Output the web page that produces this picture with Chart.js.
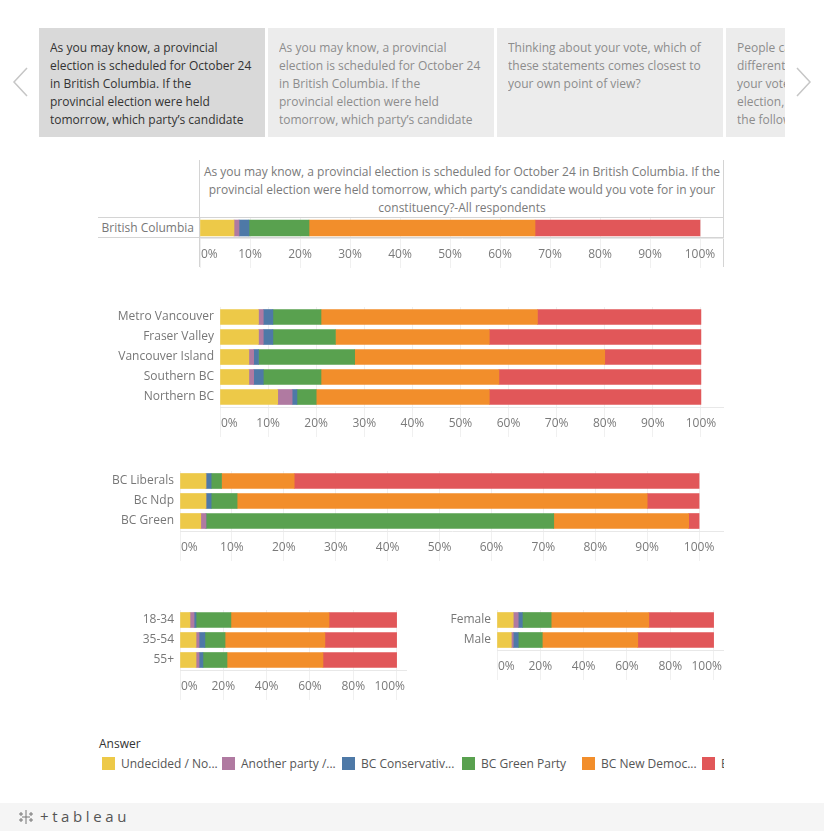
<!DOCTYPE html>
<html lang="en">
<head>
<meta charset="UTF-8">
<title>BC provincial election - vote intention</title>
<script src="https://cdn.jsdelivr.net/npm/chart.js@4"></script>
<style>
  * { margin: 0; padding: 0; box-sizing: border-box; }
  body { width: 824px; height: 831px; background: #fff; font-family: 'Open Sans', sans-serif; color: #777; position: relative; overflow: hidden; }
  .abs { position: absolute; }
  .tabs { left: 39px; top: 28px; width: 746px; height: 109px; overflow: hidden; display: flex; gap: 3px; }
  .tab { flex: none; width: 226px; height: 109px; background: #ececec; color: #8c8c8c; padding: 11px 11px 0; font-size: 12px; line-height: 18px; white-space: nowrap; overflow: hidden; }
  .tab div { height: 90px; overflow: hidden; }
  .tab.sel { background: #d9d9d9; color: #333; }
  .hline { position: absolute; height: 1px; background: #d4d4d4; }
  .vline { position: absolute; width: 1px; background: #d4d4d4; }
  .title1 { left: 200px; top: 163px; width: 524px; text-align: center; font-size: 12px; line-height: 18px; color: #7a7a7a; }
  .rowlab { left: 98px; top: 218px; width: 96px; height: 20px; line-height: 20px; text-align: right; font-size: 12px; color: #777; }
  canvas { position: absolute; }
  .legtitle { left: 99px; top: 735px; font-size: 12px; color: #333; }
  .legend { left: 102px; top: 755px; width: 622px; height: 16px; overflow: hidden; display: flex; }
  .item { flex: none; width: 120px; display: flex; align-items: center; font-size: 12px; color: #555; white-space: nowrap; }
  .sw { width: 13px; height: 13px; margin-right: 6px; flex: none; }
  .footer { left: 0; top: 803px; width: 824px; height: 28px; background: #f5f5f5; }
  .logo { left: 40px; top: 806px; font-size: 15px; color: #555; letter-spacing: 3.6px; }
</style>
</head>
<body>
<script>
  const answers = ['Undecided / Not sure', 'Another party / Independent', 'BC Conservative Party', 'BC Green Party', 'BC New Democratic Party', 'BC Liberal Party'];
  const legendText = ['Undecided / No...', 'Another party /...', 'BC Conservativ...', 'BC Green Party', 'BC New Democ...', 'BC Liberal Party'];
  const colors = ['#edc948', '#b07aa1', '#4e79a7', '#59a14f', '#f28e2b', '#e15759'];

  // question tabs, one entry per visible line (the rest is clipped)
  const tabLines = [
    ['As you may know, a provincial', 'election is scheduled for October 24', 'in British Columbia. If the', 'provincial election were held', "tomorrow, which party\u2019s candidate"],
    ['As you may know, a provincial', 'election is scheduled for October 24', 'in British Columbia. If the', 'provincial election were held', "tomorrow, which party\u2019s candidate"],
    ['Thinking about your vote, which of', 'these statements comes closest to', 'your own point of view?'],
    ['People can have', 'different reasons for', 'your vote in this', 'election, how', 'the following']
  ];
  const questionTitle = "As you may know, a provincial election is scheduled for October 24 in British Columbia. If the provincial election were held tomorrow, which party\u2019s candidate would you vote for in your constituency?-All respondents";

  // each row: undecided, another, conservative, green, ndp, liberal (%)
  const provinceLabels = ['British Columbia'];
  const provinceRows = [[6.8, 1, 2, 12, 45.2, 33]];

  const regionLabels = ['Metro Vancouver', 'Fraser Valley', 'Vancouver Island', 'Southern BC', 'Northern BC'];
  const regionRows = [
    [8, 1, 2, 10, 45, 34],
    [8, 1, 2, 13, 32, 44],
    [6, 1, 1, 20, 52, 20],
    [6, 1, 2, 12, 37, 42],
    [12, 3, 1, 4, 36, 44]
  ];

  const pastVoteLabels = ['BC Liberals', 'Bc Ndp', 'BC Green'];
  const pastVoteRows = [
    [5, 0, 1, 2, 14, 78],
    [5, 0, 1, 5, 79, 10],
    [4, 1, 0, 67, 26, 2]
  ];

  const ageLabels = ['18-34', '35-54', '55+'];
  const ageRows = [
    [4.6, 1.9, 0.9, 16.1, 45.3, 31.2],
    [7.4, 1.4, 2.7, 9.3, 46.1, 33.1],
    [7.4, 1.4, 1.8, 11.1, 44.3, 34]
  ];

  const genderLabels = ['Female', 'Male'];
  const genderRows = [
    [7.5, 2.3, 1.9, 13.3, 45.1, 29.9],
    [6.6, 0.9, 2.3, 11.1, 44.1, 35]
  ];

  const ticks10 = [0, 10, 20, 30, 40, 50, 60, 70, 80, 90, 100];
  const ticks20 = [0, 20, 40, 60, 80, 100];
</script>

<svg class="abs" style="left:0;top:0" width="824" height="140">
  <polyline points="27,68 14,82 27,96" fill="none" stroke="#c6c6c6" stroke-width="1.5"/>
  <polyline points="797,68 810,82 797,96" fill="none" stroke="#c6c6c6" stroke-width="1.5"/>
</svg>
<div class="abs tabs" id="tabs"></div>

<div class="vline" style="left:199px;top:160px;height:107px"></div>
<div class="vline" style="left:723px;top:160px;height:107px"></div>
<div class="abs title1" id="title1"></div>
<div class="abs rowlab" id="rowlab"></div>

<canvas id="c1" width="626" height="50" style="left:98px;top:218px"></canvas>
<div class="hline" style="left:98px;top:217px;width:626px"></div>
<div class="hline" style="left:98px;top:237px;width:626px"></div>
<canvas id="c2" width="624" height="130" style="left:100px;top:307px"></canvas>
<canvas id="c3" width="634" height="90" style="left:90px;top:471px"></canvas>
<canvas id="c4" width="277" height="90" style="left:130px;top:610px"></canvas>
<canvas id="c5" width="284" height="70" style="left:440px;top:610px"></canvas>

<div class="abs legtitle">Answer</div>
<div class="abs legend" id="legend"></div>

<div class="abs footer"></div>
<svg class="abs" style="left:17px;top:808px" width="18" height="18" stroke="#777" stroke-width="1">
  <path d="M9 2v14M5 9h8M4 4v4M2 6h4M14 4v4M12 6h4M4 10v4M2 12h4M14 10v4M12 12h4"/>
</svg>
<div class="abs logo">+tableau</div>

<script>
  document.getElementById('tabs').innerHTML = tabLines.map((lines, i) =>
    `<div class="tab${i === 0 ? ' sel' : ''}"><div>${lines.join('<br>')}</div></div>`).join('');
  document.getElementById('title1').textContent = questionTitle;
  document.getElementById('rowlab').textContent = provinceLabels[0];
  document.getElementById('legend').innerHTML = legendText.map((t, i) =>
    `<div class="item"><span class="sw" style="background:${colors[i]}"></span>${t}</div>`).join('');

  // Tableau-style axis labels: centred on the tick, pushed inside the pane at the edges
  const tickLabels = {
    id: 'tickLabels',
    afterDraw(chart) {
      const x = chart.scales.x, area = chart.chartArea, ctx = chart.ctx;
      ctx.save();
      ctx.font = '12px "Open Sans"';
      ctx.fillStyle = '#7a7a7a';
      ctx.textBaseline = 'middle';
      ctx.textAlign = 'left';
      x.ticks.forEach(t => {
        const label = t.value + '%';
        const w = ctx.measureText(label).width;
        let left = x.getPixelForValue(t.value) - w / 2;
        left = Math.max(left, area.left + 1);
        left = Math.min(left, area.right - 2 - w);
        ctx.fillText(label, left, area.bottom + 17);
      });
      ctx.restore();
    }
  };

  const stacked = (id, labels, rows, axisWidth, tickValues, thickness, showY) => {
    new Chart(document.getElementById(id), {
      type: 'bar',
      data: {
        labels,
        datasets: answers.map((name, i) => ({
          label: name,
          data: rows.map(r => r[i]),
          backgroundColor: colors[i],
          barThickness: thickness
        }))
      },
      options: {
        indexAxis: 'y',
        responsive: false,
        animation: false,
        layout: { padding: 0 },
        plugins: { legend: { display: false }, tooltip: { enabled: false } },
        scales: {
          x: {
            stacked: true, min: 0, max: 104.8,
            afterBuildTicks: s => { s.ticks = tickValues.map(v => ({ value: v })) },
            ticks: { display: false },
            grid: { color: '#f0f0f0', tickLength: 30, tickColor: '#f0f0f0' },
            border: { display: true, color: '#e8e8e8' }
          },
          y: {
            stacked: true,
            afterFit: s => { s.width = axisWidth; s.paddingTop = 0; s.paddingBottom = 0 },
            grid: { display: false, drawTicks: false },
            border: { display: false },
            ticks: { display: showY, autoSkip: false, color: '#777', padding: 6, font: { family: 'Open Sans', size: 12 } }
          }
        }
      },
      plugins: [tickLabels]
    });
  };

  stacked('c1', provinceLabels, provinceRows, 102, ticks10, 16, false);
  stacked('c2', regionLabels, regionRows, 120, ticks10, 15, true);
  stacked('c3', pastVoteLabels, pastVoteRows, 90, ticks10, 15, true);
  stacked('c4', ageLabels, ageRows, 50, ticks20, 15, true);
  stacked('c5', genderLabels, genderRows, 57, ticks20, 15, true);
</script>
</body>
</html>
